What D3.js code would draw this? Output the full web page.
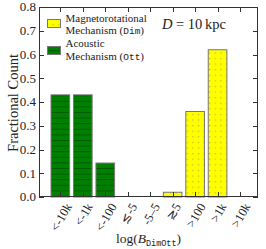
<!DOCTYPE html>
<html>
<head>
<meta charset="utf-8">
<script src="https://cdn.jsdelivr.net/npm/d3@7"></script>
<style>
  body { margin: 0; background: #fff; }
  text { font-family: "Liberation Serif", serif; fill: #222; }
  .mono { font-family: "Liberation Mono", "DejaVu Sans Mono", monospace; }
</style>
</head>
<body>
<div id="main"></div>
<script>
// bins of log(B_DimOtt)
const categories = ['<-10k', '<-1k', '<-100', '\u2272-5', '-5\u20135', '\u22735', '>100', '>1k', '>10k']
const acoustic = [0.43, 0.43, 0.143, 0, 0, 0, 0, 0, 0]
const magneto = [0, 0, 0, 0, 0, 0.02, 0.36, 0.62, 0]
const yTicks = [0, 0.1, 0.2, 0.3, 0.4, 0.5, 0.6, 0.7, 0.8]

const W = 266, H = 249
const m = { left: 39, right: 8, top: 7, bottom: 52 }

const svg = d3.select('#main').append('svg').attr('width', W).attr('height', H)

const defs = svg.append('defs')
const hatch = defs.append('pattern').attr('id', 'hlines').attr('patternUnits', 'userSpaceOnUse').attr('width', 6).attr('height', 5.6)
hatch.append('rect').attr('width', 6).attr('height', 5.6).attr('fill', '#008000')
hatch.append('line').attr('x1', 0).attr('x2', 6).attr('y1', 0.5).attr('y2', 0.5).attr('stroke', '#005a00').attr('stroke-width', 1)
const dots = defs.append('pattern').attr('id', 'dots').attr('patternUnits', 'userSpaceOnUse').attr('width', 5.6).attr('height', 5.6)
dots.append('rect').attr('width', 5.6).attr('height', 5.6).attr('fill', '#ffff00')
dots.append('rect').attr('x', 2).attr('y', 2).attr('width', 1).attr('height', 1).attr('fill', '#9a9a50')

const x = d3.scaleLinear().domain([-0.95, 8.8]).range([m.left, W - m.right])
const y = d3.scaleLinear().domain([0, 0.8]).range([H - m.bottom, m.top])
const bw = 0.83 * (x(1) - x(0))

const g = svg.append('g')

const drawBars = (vals, fill) => {
  vals.forEach((v, i) => {
    if (v <= 0) return
    g.append('rect')
      .attr('x', x(i) - bw / 2).attr('width', bw)
      .attr('y', y(v)).attr('height', y(0) - y(v))
      .attr('fill', fill).attr('stroke', '#777').attr('stroke-width', 1)
  })
}
drawBars(acoustic, 'url(#hlines)')
drawBars(magneto, 'url(#dots)')

// frame + ticks
const x0 = m.left, x1 = W - m.right, y0 = H - m.bottom, y1 = m.top
const ax = svg.append('g').attr('stroke', '#333').attr('stroke-width', 1)
ax.append('rect').attr('x', x0 + 0.5).attr('y', y1 + 0.5).attr('width', x1 - x0 - 1).attr('height', y0 - y1 - 1).attr('fill', 'none')
yTicks.forEach(t => {
  const yy = Math.round(y(t)) + 0.5
  ax.append('line').attr('x1', x0).attr('x2', x0 + 5).attr('y1', yy).attr('y2', yy)
  ax.append('line').attr('x1', x1 - 5).attr('x2', x1).attr('y1', yy).attr('y2', yy)
})
categories.forEach((c, i) => {
  const xx = Math.round(x(i)) + 0.5
  ax.append('line').attr('x1', xx).attr('x2', xx).attr('y1', y0).attr('y2', y0 - 5)
  ax.append('line').attr('x1', xx).attr('x2', xx).attr('y1', y1).attr('y2', y1 + 5)
})

// y tick labels
svg.selectAll('text.yt').data(yTicks).join('text').attr('class', 'yt')
  .attr('x', x0 - 3).attr('y', d => y(d)).attr('dy', '0.33em')
  .attr('text-anchor', 'end').attr('font-size', 13)
  .text(d => d3.format('.1f')(d))

// x tick labels, rotated 60 deg, centred under tick
const ang = 60 * Math.PI / 180
categories.forEach((c, i) => {
  const t = svg.append('text').attr('font-size', 12.5).attr('text-anchor', 'middle')
    .attr('dominant-baseline', 'central').text(c)
  const w = t.node().getComputedTextLength(), h = 9
  const bh = w * Math.sin(ang) + h * Math.cos(ang)
  t.attr('transform', `translate(${x(i) + 1},${y0 + 5 + bh / 2}) rotate(-60)`)
})

// axis titles
svg.append('text').attr('transform', `translate(18,${(y0 + y1) / 2 + 1}) rotate(-90)`)
  .attr('text-anchor', 'middle').attr('font-size', 14.5).text('Fractional Count')
const xl = svg.append('text').attr('x', (x0 + x1) / 2).attr('y', H - 6).attr('text-anchor', 'middle').attr('font-size', 13.5)
xl.append('tspan').text('log(')
xl.append('tspan').attr('font-style', 'italic').text('B')
xl.append('tspan').attr('class', 'mono').attr('font-size', 8.5).attr('dy', 2.5).text('DimOtt')
xl.append('tspan').attr('dy', -2.5).text(')')

// legend
const lg = svg.append('g')
lg.append('rect').attr('x', 47.5).attr('y', 19.5).attr('width', 13).attr('height', 8).attr('fill', 'url(#dots)').attr('stroke', '#777')
lg.append('rect').attr('x', 47.5).attr('y', 46.5).attr('width', 13).attr('height', 8).attr('fill', 'url(#hlines)').attr('stroke', '#777')
const lt = (yy, a, b) => {
  const t = lg.append('text').attr('x', 65.5).attr('y', yy).attr('font-size', 11)
  t.append('tspan').text(a)
  if (b) {
    t.append('tspan').text(' (')
    t.append('tspan').attr('class', 'mono').attr('font-size', 9.5).text(b)
    t.append('tspan').text(')')
  }
}
lt(21.7, 'Magnetorotational')
lt(34.3, 'Mechanism', 'Dim')
lt(47.3, 'Acoustic')
lt(59.7, 'Mechanism', 'Ott')

const dl = svg.append('text').attr('x', 162).attr('y', 28.5).attr('font-size', 14.5)
dl.append('tspan').attr('font-style', 'italic').text('D')
dl.append('tspan').attr('dx', 3.5).text('=')
dl.append('tspan').attr('dx', 3.5).text('10\u2009kpc')
</script>
</body>
</html>
